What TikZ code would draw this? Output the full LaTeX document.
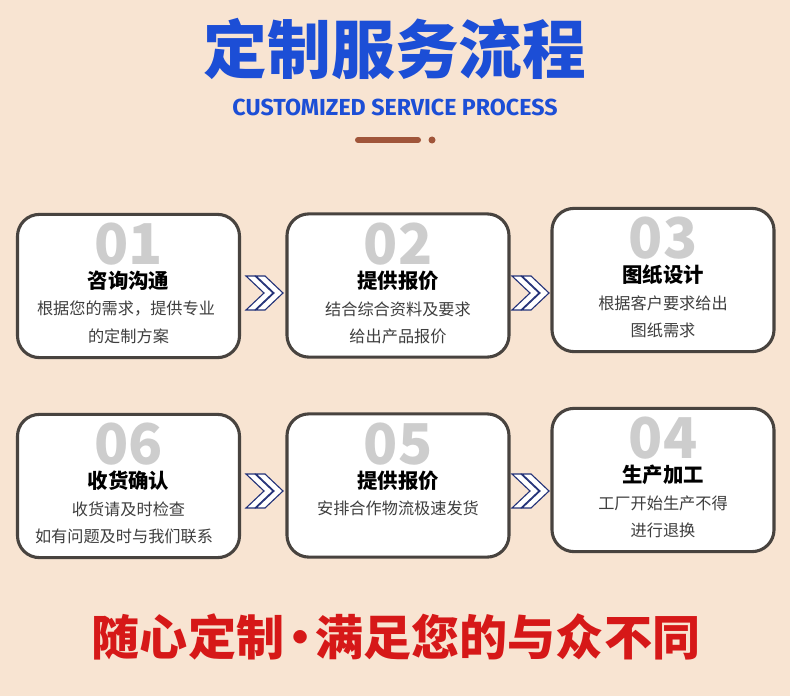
\documentclass[tikz,border=0pt]{standalone}
\usepackage{fontspec}
\usepackage{xcolor}
\usetikzlibrary{positioning}
\newfontfamily\cjk{Noto Sans CJK SC}
\newfontfamily\latinsans{Fira Sans}
\definecolor{bgcream}{RGB}{248,228,210}
\definecolor{titleblue}{RGB}{28,78,214}
\definecolor{barbrown}{RGB}{160,85,58}
\definecolor{boxline}{RGB}{72,67,63}
\definecolor{numgray}{RGB}{205,205,205}
\definecolor{desctext}{RGB}{62,62,62}
\definecolor{chevnavy}{RGB}{36,50,120}
\definecolor{sloganred}{RGB}{214,24,24}

\tikzset{
  chevrons/.pic={
    \foreach \dx in {0,10}
      \draw[chevline] (\dx,-17) -- (\dx+9,-17) -- (\dx+27,0) -- (\dx+9,17) -- (\dx,17) -- (\dx+18,0) -- cycle;
  }
}

\begin{document}
\begin{tikzpicture}[
    x=0.025cm, y=-0.025cm,
    stepbox/.style={draw=boxline, line width=2.2pt, fill=white, rounded corners=0.55cm, minimum width=5.55cm, minimum height=3.58cm},
    numtext/.style={text=numgray, font=\cjk\bfseries\fontsize{40}{40}\selectfont, inner sep=0pt},
    headtext/.style={font=\cjk\bfseries\fontsize{14.5}{14.5}\selectfont, inner sep=0pt},
    desc/.style={text=desctext, font=\cjk\fontsize{11.5}{11.5}\selectfont, inner sep=0pt},
    chevline/.style={draw=chevnavy, line width=0.8pt, fill=white},
    bigtitle/.style={text=titleblue, font=\cjk\bfseries\fontsize{45.3}{45.3}\selectfont, inner sep=0pt},
    subtitle/.style={text=titleblue, font=\latinsans\bfseries\fontsize{16.5}{16.5}\selectfont, inner sep=0pt},
    slogan/.style={text=sloganred, font=\cjk\bfseries\fontsize{34.2}{34.2}\selectfont, inner sep=0pt}
]
\fill[bgcream] (0,0) rectangle (790,696);

% heading
\node[bigtitle] (title) at (395,49) {定制服务流程};
\node[subtitle] (subtitle) at (395,107) {CUSTOMIZED SERVICE PROCESS};
\draw[barbrown, line width=0.15cm, line cap=round] (358,140) -- (418,140);
\fill[barbrown] (432,140) circle (3.5);

% top row
\node[stepbox] (s1) at (128.5,286) {};
\node[numtext] (n1) at (128.5,244) {01};
\node[headtext] (h1) at (128.5,281) {咨询沟通};
\node[desc] (d1a) at (126,309) {根据您的需求，提供专业};
\node[desc] (d1b) at (128.5,336) {的定制方案};

\node[stepbox] (s2) at (398,285.5) {};
\node[numtext] (n2) at (398,244) {02};
\node[headtext] (h2) at (398,281) {提供报价};
\node[desc] (d2a) at (398,309) {结合综合资料及要求};
\node[desc] (d2b) at (398,336) {给出产品报价};

\node[stepbox] (s3) at (663,280) {};
\node[numtext] (n3) at (663,238) {03};
\node[headtext] (h3) at (663,275) {图纸设计};
\node[desc] (d3a) at (663,303) {根据客户要求给出};
\node[desc] (d3b) at (663,330) {图纸需求};

% bottom row
\node[stepbox] (s6) at (128.5,486) {};
\node[numtext] (n6) at (128.5,444) {06};
\node[headtext] (h6) at (128.5,481) {收货确认};
\node[desc] (d6a) at (128.5,509) {收货请及时检查};
\node[desc] (d6b) at (124,536) {如有问题及时与我们联系};

\node[stepbox] (s5) at (398,485.5) {};
\node[numtext] (n5) at (398,444) {05};
\node[headtext] (h5) at (398,481) {提供报价};
\node[desc] (d5a) at (398,508) {安排合作物流极速发货};

\node[stepbox] (s4) at (663,480) {};
\node[numtext] (n4) at (663,438) {04};
\node[headtext] (h4) at (663,475) {生产加工};
\node[desc] (d4a) at (663,503) {工厂开始生产不得};
\node[desc] (d4b) at (663,530) {进行退换};

% chevrons between the boxes
\pic at (246,293) {chevrons};
\pic at (512,293) {chevrons};
\pic at (246,491) {chevrons};
\pic at (512,491) {chevrons};

% slogan
\node[slogan] (slogan) at (396,637) {随心定制\kern-0.17em·\kern-0.18em满足您的与众不同};
\end{tikzpicture}
\end{document}
